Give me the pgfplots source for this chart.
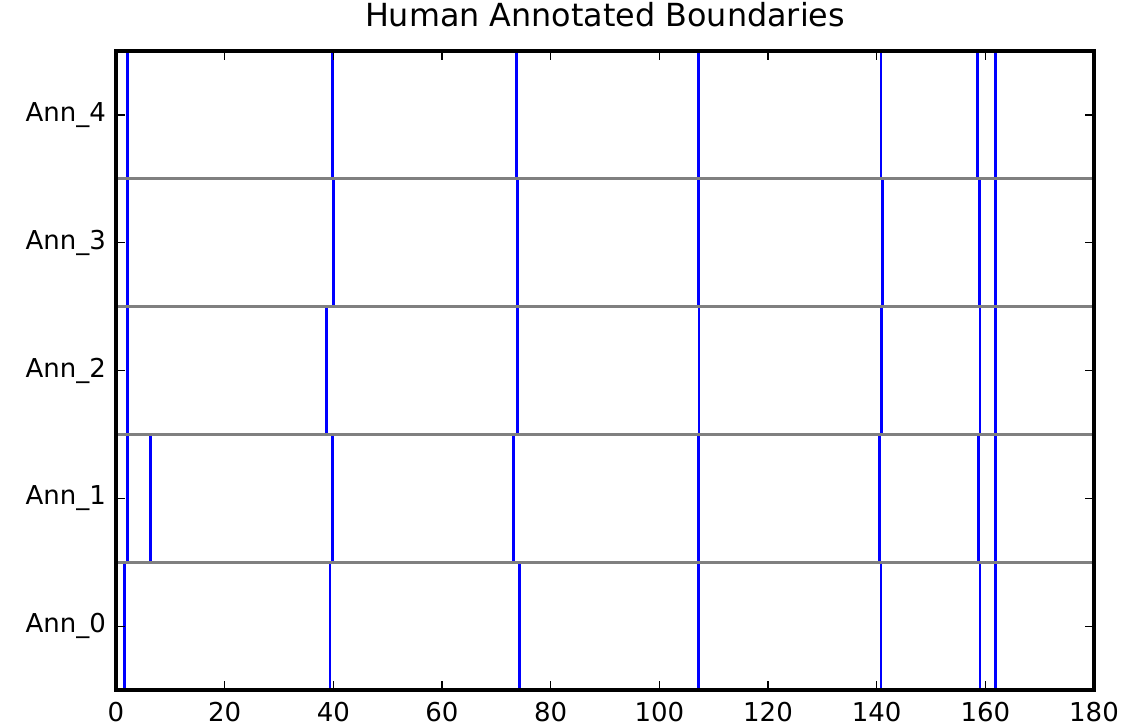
\documentclass[border=0pt]{standalone}
\usepackage{fontspec}
\setmainfont{DejaVu Sans}
\usepackage{pgfplots}
\pgfplotsset{compat=1.18}
\definecolor{segblue}{RGB}{0,0,255}
\definecolor{rowgray}{RGB}{128,128,128}
\begin{document}
\begin{tikzpicture}
\useasboundingbox (-58pt,-17.5pt) rectangle (515pt,345pt);
\begin{axis}[
  scale only axis,
  width=489pt, height=319.5pt,
  xmin=0, xmax=180, ymin=-0.5, ymax=4.5,
  xtick={0,20,...,180},
  ytick={0,1,2,3,4},
  yticklabels={Ann\_0,Ann\_1,Ann\_2,Ann\_3,Ann\_4},
  tick align=inside,
  xtick pos=both, ytick pos=both,
  major tick length=4.5pt,
  minor tick num=0,
  every tick/.style={black, line width=0.6pt},
  axis line style={black, line width=1.6pt},
  axis on top,
  /pgf/number format/assume math mode=true,
  ticklabel style={font=\fontsize{13}{15}\selectfont},
  xticklabel style={anchor=base, yshift=-15.5pt},
  yticklabel style={anchor=east, xshift=-1.5pt},
  title={Human Annotated Boundaries},
  title style={at={(0.5,1)}, anchor=base, yshift=6.5pt, font=\fontsize{15.9}{18}\selectfont},
  unbounded coords=jump,
  clip=true,
]
% boundaries of each annotator, one segment per boundary inside its row
\addplot[segblue, line width=1.4pt] coordinates {
  (0,-0.5) (0,0.5) (0,nan)
  (1.6,-0.5) (1.6,0.5) (1.6,nan)
  (39.4,-0.5) (39.4,0.5) (39.4,nan)
  (74.2,-0.5) (74.2,0.5) (74.2,nan)
  (107.2,-0.5) (107.2,0.5) (107.2,nan)
  (140.8,-0.5) (140.8,0.5) (140.8,nan)
  (159.0,-0.5) (159.0,0.5) (159.0,nan)
  (161.8,-0.5) (161.8,0.5)
};
\addplot[segblue, line width=1.4pt] coordinates {
  (2.1,0.5) (2.1,1.5) (2.1,nan)
  (6.4,0.5) (6.4,1.5) (6.4,nan)
  (39.9,0.5) (39.9,1.5) (39.9,nan)
  (73.1,0.5) (73.1,1.5) (73.1,nan)
  (107.2,0.5) (107.2,1.5) (107.2,nan)
  (140.5,0.5) (140.5,1.5) (140.5,nan)
  (158.7,0.5) (158.7,1.5) (158.7,nan)
  (161.8,0.5) (161.8,1.5)
};
\addplot[segblue, line width=1.4pt] coordinates {
  (2.1,1.5) (2.1,2.5) (2.1,nan)
  (38.7,1.5) (38.7,2.5) (38.7,nan)
  (73.9,1.5) (73.9,2.5) (73.9,nan)
  (107.3,1.5) (107.3,2.5) (107.3,nan)
  (140.9,1.5) (140.9,2.5) (140.9,nan)
  (159.0,1.5) (159.0,2.5) (159.0,nan)
  (161.8,1.5) (161.8,2.5)
};
\addplot[segblue, line width=1.4pt] coordinates {
  (2.1,2.5) (2.1,3.5) (2.1,nan)
  (40.1,2.5) (40.1,3.5) (40.1,nan)
  (73.9,2.5) (73.9,3.5) (73.9,nan)
  (107.2,2.5) (107.2,3.5) (107.2,nan)
  (141.0,2.5) (141.0,3.5) (141.0,nan)
  (158.9,2.5) (158.9,3.5) (158.9,nan)
  (161.8,2.5) (161.8,3.5)
};
\addplot[segblue, line width=1.4pt] coordinates {
  (2.1,3.5) (2.1,4.5) (2.1,nan)
  (39.9,3.5) (39.9,4.5) (39.9,nan)
  (73.7,3.5) (73.7,4.5) (73.7,nan)
  (107.2,3.5) (107.2,4.5) (107.2,nan)
  (140.8,3.5) (140.8,4.5) (140.8,nan)
  (158.6,3.5) (158.6,4.5) (158.6,nan)
  (161.8,3.5) (161.8,4.5)
};
% separators between annotator rows
\addplot[rowgray, line width=1.4pt] coordinates {
  (0,0.5) (180,0.5) (180,nan)
  (0,1.5) (180,1.5) (180,nan)
  (0,2.5) (180,2.5) (180,nan)
  (0,3.5) (180,3.5)
};
\end{axis}
\end{tikzpicture}
\end{document}
